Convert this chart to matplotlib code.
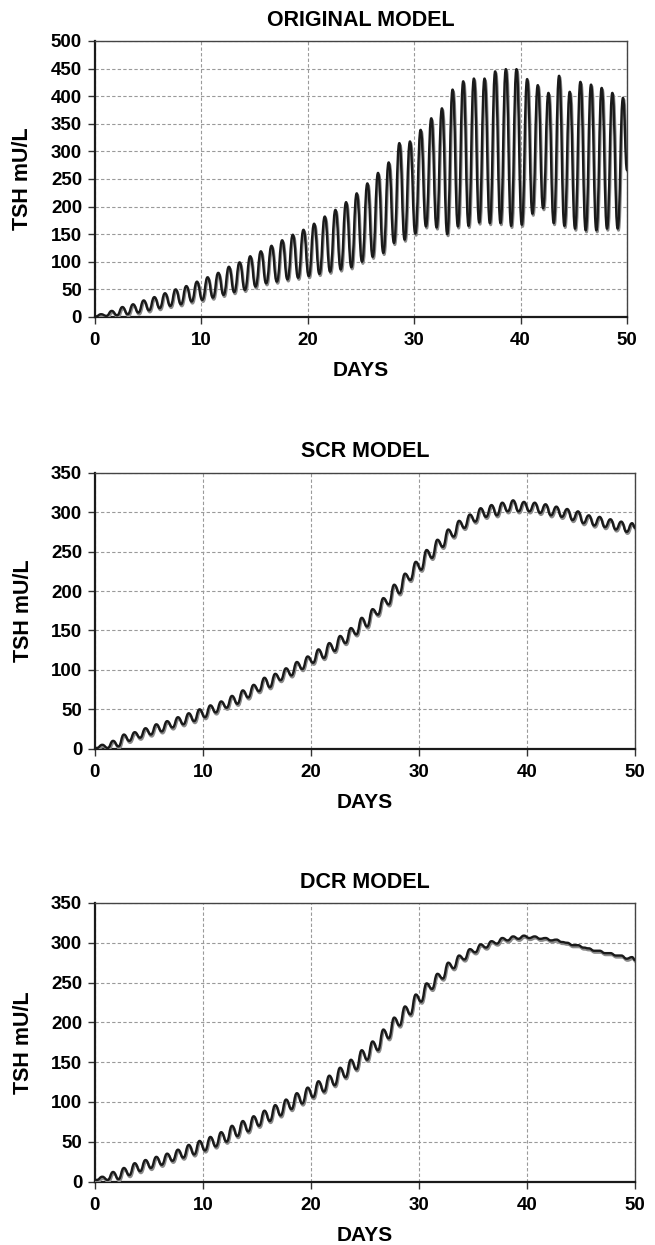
import numpy as np
import matplotlib
matplotlib.use('Agg')
import matplotlib.pyplot as plt
import matplotlib.patheffects as pe
from matplotlib.path import Path
from matplotlib.patches import PathPatch

plt.rcParams['font.family'] = ['Liberation Sans', 'DejaVu Sans']
plt.rcParams['font.weight'] = 'bold'

# daily rhythm: one trough and one peak per day (mU/L)
days = np.arange(50)

orig_trough = [1, 2, 3, 5, 8, 12, 16, 20, 23, 28,
               31, 35, 40, 45, 49, 55, 61, 64, 68, 71,
               74, 78, 82, 86, 90, 100, 109, 116, 134, 140,
               151, 164, 162, 150, 164, 165, 171, 170, 170, 165,
               167, 187, 197, 170, 165, 160, 157, 157, 160, 160]
orig_peak = [5, 11, 18, 23, 30, 36, 43, 50, 56, 64,
             72, 80, 91, 99, 110, 119, 129, 139, 149, 158,
             169, 182, 194, 208, 224, 242, 261, 280, 315, 318,
             339, 360, 378, 412, 427, 432, 432, 445, 449, 449,
             431, 420, 406, 437, 408, 426, 421, 415, 406, 397]
orig_end = 266

scr_trough = [1, 1, 3, 10, 14, 18, 22, 27, 31, 35,
              40, 46, 52, 57, 65, 73, 78, 87, 93, 101,
              109, 115, 124, 134, 145, 155, 170, 183, 197, 214,
              227, 242, 256, 269, 280, 288, 294, 296, 301, 301,
              301, 299, 296, 294, 290, 286, 283, 281, 278, 275]
scr_peak = [5, 10, 18, 21, 26, 31, 35, 40, 45, 50,
            55, 60, 67, 74, 81, 90, 95, 102, 110, 117,
            126, 134, 143, 153, 166, 177, 191, 208, 222, 237,
            252, 265, 278, 289, 297, 305, 309, 312, 315, 313,
            312, 310, 307, 304, 301, 296, 294, 291, 288, 286]
scr_end = 280

dcr_trough = [2, 2, 3, 8, 13, 17, 21, 26, 30, 34,
              39, 44, 50, 57, 63, 70, 76, 83, 91, 98,
              106, 113, 121, 131, 141, 153, 165, 180, 196, 210,
              226, 242, 255, 268, 279, 288, 294, 299, 303, 305,
              306, 305, 303, 301, 297, 294, 290, 287, 284, 280]
dcr_peak = [6, 12, 17, 23, 27, 31, 35, 40, 46, 51,
            56, 62, 70, 76, 82, 89, 96, 103, 111, 118,
            126, 133, 143, 153, 165, 176, 191, 206, 220, 235,
            249, 261, 275, 284, 292, 298, 302, 306, 308, 309,
            308, 306, 304, 300, 297, 293, 290, 287, 284, 282]
dcr_end = 278


def build_series(trough, peak, t_phase, p_phase, end_val):
    t = np.empty(2 * len(days))
    y = np.empty(2 * len(days))
    t[0::2] = days + t_phase
    t[1::2] = days + p_phase
    y[0::2] = trough
    y[1::2] = peak
    t = np.concatenate([[0], t, [50]])
    y = np.concatenate([[trough[0]], y, [end_val]])
    return t, y


def smooth_path(t, y):
    # bezier through the read extremes, flat tangent at each peak / trough
    verts = [(t[0], y[0])]
    codes = [Path.MOVETO]
    for i in range(len(t) - 1):
        dt = t[i + 1] - t[i]
        verts += [(t[i] + 0.5 * dt, y[i]), (t[i + 1] - 0.5 * dt, y[i + 1]), (t[i + 1], y[i + 1])]
        codes += [Path.CURVE4] * 3
    return Path(verts, codes)


def draw_panel(ax, t, y, title, ymax):
    curve = PathPatch(smooth_path(t, y), fill=False, edgecolor='#1a1a1a', lw=1.7,
                      joinstyle='round', capstyle='round', zorder=3,
                      path_effects=[pe.Stroke(offset=(0.6, -1.3), foreground='#8a8a8a', linewidth=1.9),
                                    pe.Normal()])
    ax.add_patch(curve)
    ax.set_xlim(0, 50)
    ax.set_ylim(0, ymax)
    ax.set_xticks(np.arange(0, 51, 10))
    ax.set_yticks(np.arange(0, ymax + 1, 50))
    ax.grid(True, color='#9a9a9a', linestyle=(0, (3, 2)), linewidth=0.8)
    ax.set_axisbelow(True)
    for s in ['left', 'bottom']:
        ax.spines[s].set_linewidth(1.6)
        ax.spines[s].set_color('#1a1a1a')
    for s in ['top', 'right']:
        ax.spines[s].set_linewidth(1.0)
        ax.spines[s].set_color('#444444')
    ax.tick_params(direction='out', length=5, width=1, color='#333333', labelsize=13.5)
    ax.tick_params(axis='x', pad=6)
    ax.tick_params(axis='y', pad=4)
    for lab in ax.get_xticklabels() + ax.get_yticklabels():
        lab.set_fontweight('bold')
    ax.set_title(title, fontsize=15.5, fontweight='bold', pad=11)
    ax.set_xlabel('DAYS', fontsize=15, fontweight='bold')
    ax.set_ylabel('TSH mU/L', fontsize=15.5, fontweight='bold')
    ax.xaxis.set_label_coords(0.5, -0.16)


fig = plt.figure(figsize=(6.55, 12.45), dpi=100)
ax1 = fig.add_axes([0.1443, 0.7454, 0.8130, 0.2217])
ax2 = fig.add_axes([0.1446, 0.3986, 0.8253, 0.2217])
ax3 = fig.add_axes([0.1446, 0.0510, 0.8253, 0.2237])

t1, y1 = build_series(orig_trough, orig_peak, 0.12, 0.62, orig_end)
t2, y2 = build_series(scr_trough, scr_peak, 0.2, 0.7, scr_end)
t3, y3 = build_series(dcr_trough, dcr_peak, 0.2, 0.7, dcr_end)

draw_panel(ax1, t1, y1, 'ORIGINAL MODEL', 500)
draw_panel(ax2, t2, y2, 'SCR MODEL', 350)
draw_panel(ax3, t3, y3, 'DCR MODEL', 350)

# y label: coordinate is the right edge of the rotated text
ax1.yaxis.set_label_coords(-0.1155, 0.5)
ax2.yaxis.set_label_coords(-0.113, 0.5)
ax3.yaxis.set_label_coords(-0.113, 0.5)

fig.savefig('out.png', dpi=100)
